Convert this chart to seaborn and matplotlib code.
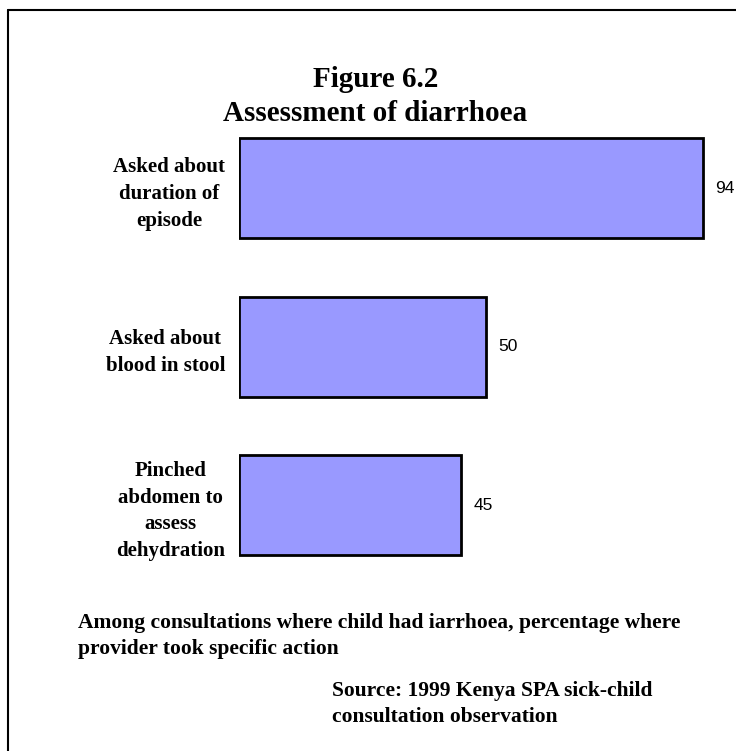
import matplotlib
matplotlib.use("Agg")
import matplotlib.pyplot as plt
import seaborn as sns
import pandas as pd

# Chart data
categories = ["Asked about\nduration of\nepisode",
              "Asked about\nblood in stool",
              "Pinched\nabdomen to\nassess\ndehydration"]
values = [94, 50, 45]

title = "Figure 6.2\nAssessment of diarrhoea"
note = "Among consultations where child had iarrhoea, percentage where\nprovider took specific action"
source = "Source: 1999 Kenya SPA sick-child\nconsultation observation"

df = pd.DataFrame({"label": categories, "value": values})

sns.set_style("white")
plt.rcParams["text.color"] = "black"
plt.rcParams["ytick.color"] = "black"
serif = ["Liberation Serif", "DejaVu Serif"]
sans = ["Liberation Sans", "DejaVu Sans"]

fig = plt.figure(figsize=(7.36, 7.51), dpi=100)
ax = fig.add_axes([0.3247, 0.222, 0.671, 0.633])

sns.barplot(data=df, x="value", y="label", orient="h", color="#9999FF",
            saturation=1, edgecolor="black", linewidth=2, width=0.63, ax=ax)

ax.set_xlim(0, 100)
ax.set_ylim(2.5, -0.5)
ax.set_xlabel("")
ax.set_ylabel("")
ax.set_xticks([])
for s in ax.spines.values():
    s.set_visible(False)

ax.tick_params(axis="y", length=0, pad=10)
for lbl in ax.get_yticklabels():
    lbl.set_fontfamily(serif)
    lbl.set_fontweight("bold")
    lbl.set_fontsize(15)
    lbl.set_color("black")
    lbl.set_multialignment("center")
    lbl.set_linespacing(1.45)

# value labels
for i, v in enumerate(values):
    ax.annotate(str(v), xy=(v, i), xytext=(12, 0), textcoords="offset pixels",
                ha="left", va="center", fontsize=12.5, family=sans, color="black")

# title and notes
fig.text(0.51, 0.8715, title, ha="center", va="center", fontsize=21,
         fontweight="bold", family=serif, linespacing=1.3)
fig.text(0.106, 0.153, note, ha="left", va="center", fontsize=15.5,
         fontweight="bold", family=serif, linespacing=1.45)
fig.text(0.451, 0.062, source, ha="left", va="center", fontsize=15.5,
         fontweight="bold", family=serif, linespacing=1.4)

# frame on left and top
fig.add_artist(plt.Line2D([8 / 736, 8 / 736], [0, 1 - 10 / 751], color="black",
                          linewidth=1.5, transform=fig.transFigure))
fig.add_artist(plt.Line2D([8 / 736, 1], [1 - 10 / 751, 1 - 10 / 751], color="black",
                          linewidth=1.5, transform=fig.transFigure))

fig.savefig("out.png", dpi=100)
